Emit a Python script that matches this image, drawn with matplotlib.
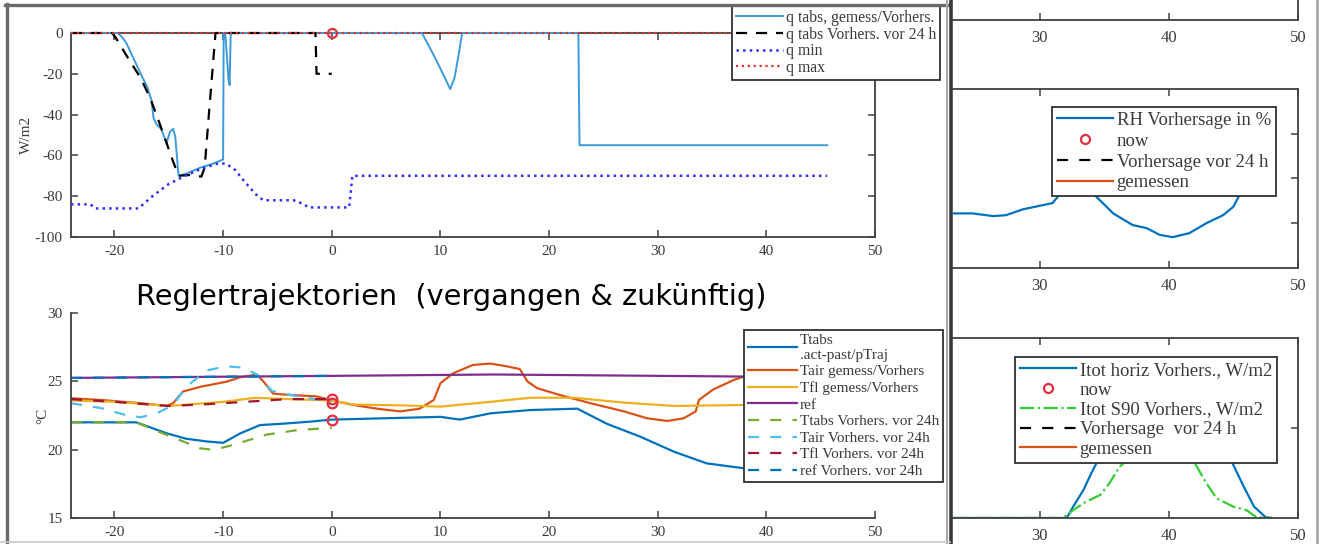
import matplotlib
matplotlib.use("Agg")
import matplotlib.pyplot as plt
from matplotlib.lines import Line2D

plt.rcParams['font.family'] = ['Liberation Serif', 'DejaVu Serif']
plt.rcParams['axes.unicode_minus'] = False

# ---- data: heat flux panel (hours relative to now, W/m2)
q_tabs_x = [-24, -19.7, -19.3, -18.9, -17.6, -17.0, -16.6, -16.4, -16.1, -15.7, -15.2,
            -14.9, -14.6, -14.4, -14.1, -13.4, -12.1, -10.9, -10.0, -9.95, -9.8, -9.5,
            -9.4, -9.3, -9.0, 8.3, 9.5, 10.5, 10.9, 11.3, 11.7, 12.0, 22.7, 22.8, 45.6]
q_tabs_v = [0, 0, -2, -5, -19.8, -26.3, -32.8, -41.8, -45, -47, -54,
            -48.5, -47, -51, -70, -69, -66, -64, -62, 0, 0, -23,
            -25.5, 0, 0, 0, -12, -23, -27.5, -22, -10, 0, 0, -55, -55]

q_prev_x = [-24, -20.2, -19.8, -18.9, -17.6, -16.7, -15.8, -15.2, -14.6, -14.1, -13.1,
            -12.0, -11.7, -11.2, -10.7, -1.5, -1.4, 0]
q_prev_v = [0, 0, -3, -11, -22, -32, -45, -54, -63, -70, -69.6,
            -70.4, -66, -32.7, 0, 0, -20, -20]

q_min_x = [-24, -22.2, -21.8, -17.8, -16.5, -15.0, -13.5, -12.0, -10.5, -9.8, -9.0,
           -8.0, -7.0, -6.3, -3.5, -3.0, -2.5, -2.2, 1.6, 1.9, 45.6]
q_min_v = [-84, -84, -86, -86, -80, -74, -70, -66.5, -64, -64, -66.5,
           -73, -79, -82, -82, -83, -84, -85.5, -85.5, -70, -70]

q_max_x = [-24, 45.6]
q_max_v = [0, 0]

now_q = 0

# ---- data: temperature panel (degC)
ttabs_x = [-24, -18.0, -15.2, -13.4, -11.5, -10.0, -8.4, -6.6, -4.5, -2.0, 0,
           10.0, 11.8, 14.6, 18.3, 22.6, 25.3, 28.4, 31.5, 34.5, 37.9, 41.0, 45.6]
ttabs_v = [22.0, 22.0, 21.2, 20.8, 20.6, 20.5, 21.2, 21.8, 21.9, 22.05, 22.2,
           22.4, 22.2, 22.66, 22.9, 23.0, 21.9, 20.95, 19.85, 19.0, 18.64, 18.2, 17.8]

tair_x = [-24, -21.3, -17.6, -15.2, -14.6, -13.7, -12.1, -9.7, -8.4, -6.9, -6.3, -5.4,
          -3.8, -1.4, -0.2, 2.0, 4.15, 6.3, 8.1, 9.4, 10.0, 11.2, 12.4, 13.0, 14.6,
          16.1, 17.3, 18.0, 18.9, 21.0, 23.8, 26.9, 29.0, 30.9, 32.4, 33.5, 33.8,
          35.1, 37.0, 37.9, 41.0, 45.6]
tair_v = [23.76, 23.64, 23.4, 23.2, 23.4, 24.25, 24.6, 24.97, 25.3, 25.5, 25.0, 24.1,
          24.0, 23.9, 23.64, 23.27, 23.0, 22.8, 23.0, 23.64, 24.86, 25.6, 26.0, 26.2, 26.3,
          26.1, 25.9, 25.0, 24.5, 24.0, 23.4, 22.8, 22.3, 22.1, 22.3, 22.8, 23.64,
          24.4, 25.1, 25.34, 25.6, 25.8]

tfl_x = [-24, -20, -15, -10, -7, -4, 0, 2, 6, 10.0, 14.6, 18.3, 22.3, 26.9, 31.5, 37.9, 45.6]
tfl_v = [23.6, 23.5, 23.2, 23.5, 23.8, 23.7, 23.6, 23.3, 23.25, 23.15, 23.5, 23.8, 23.8,
         23.44, 23.2, 23.27, 23.4]

ref_x = [-24, 0, 15, 37.9, 45.6]
ref_v = [25.25, 25.4, 25.5, 25.35, 25.35]

ttabs_prev_x = [-24, -18.0, -15.2, -12.1, -10.9, -9.1, -6.0, -3.1, -0.6, 0]
ttabs_prev_v = [22.0, 22.0, 21.08, 20.1, 19.98, 20.34, 21.1, 21.44, 21.56, 21.6]

tair_prev_x = [-24, -21.3, -18.8, -17.6, -16.1, -14.6, -13.4, -11.5, -9.7, -8.1, -6.9,
               -5.5, -3.8, 0]
tair_prev_v = [23.4, 23.05, 22.5, 22.37, 22.66, 23.27, 24.6, 25.8, 26.1, 26.0, 25.5,
               24.3, 24.0, 23.5]

tfl_prev_x = [-24, -20, -15, -12, -8, -4, 0]
tfl_prev_v = [23.7, 23.5, 23.2, 23.3, 23.5, 23.7, 23.7]

ref_prev_x = [-24, 0]
ref_prev_v = [25.25, 25.4]

now_t = [23.7, 23.4, 22.2]

# ---- data: right panels (cropped view of another figure)
rh_x = [23.3, 24.8, 26.4, 27.4, 28.7, 30.0, 31.0, 31.4, 31.7, 33.0, 34.4, 35.7, 37.2,
        38.3, 39.3, 40.3, 41.6, 42.9, 44.2, 45.0, 45.4, 45.6]
rh_v = [52.2, 52.2, 51.6, 51.8, 53.1, 53.9, 54.5, 55.9, 57.4, 62.0, 55.9, 52.2, 49.6,
        48.9, 47.4, 46.9, 47.8, 50.0, 51.8, 53.7, 55.9, 57.0]

itot_x = [23.3, 32.1, 32.6, 33.4, 34.0, 34.4, 37.0, 40.0, 43.0, 45.0, 45.8, 46.6, 47.5, 48.0]
itot_v = [0, 0, 63, 156, 248, 304, 650, 720, 650, 294, 174, 63, 4, 0]

is90_x = [23.3, 31.8, 32.6, 33.6, 34.7, 35.4, 36.2, 36.5, 39.0, 42.1, 42.9, 43.7, 45.0,
          46.0, 46.8, 48.0]
is90_v = [0, 0, 44, 91, 128, 193, 285, 304, 450, 294, 194, 109, 63, 44, 4, 0]

W, H = 1320, 544
fig = plt.figure(figsize=(W / 100, H / 100), dpi=100)


def rect(l, t, r, b):
    return [l / W, 1 - b / H, (r - l) / W, (b - t) / H]


GRAY = '#404040'
TXT = '#3a3a3a'


def style(ax, box=True, fs=11, pad=6):
    for s in ax.spines.values():
        s.set_color(GRAY)
        s.set_linewidth(1.3)
    if not box:
        ax.spines['top'].set_visible(False)
        ax.spines['right'].set_visible(False)
    ax.tick_params(direction='in', length=5, width=1.1, color=GRAY,
                   labelcolor=TXT, labelsize=fs, pad=pad,
                   top=box, right=box)


def legend(ax, handles, labels, x0, y0, fs, hl=3.0, ls=0.15):
    lg = ax.legend(handles, labels, loc='upper left',
                   bbox_to_anchor=(x0 / W, 1 - y0 / H), bbox_transform=fig.transFigure,
                   borderaxespad=0, fontsize=fs, handlelength=hl, handletextpad=0.2,
                   labelspacing=ls, borderpad=0.25, fancybox=False, framealpha=1,
                   edgecolor='#303030', labelcolor=TXT)
    lg.get_frame().set_linewidth(1.3)
    lg.set_zorder(10)
    return lg


# ---- top-left: heat flux
ax1 = fig.add_axes(rect(71, 33, 875, 237))
h1, = ax1.plot(q_tabs_x, q_tabs_v, color='#3d9ad8', lw=1.4, clip_on=False, zorder=3)
h2, = ax1.plot(q_prev_x, q_prev_v, color='black', lw=1.6, ls=(0, (5, 4)), clip_on=False, zorder=3)
h3, = ax1.plot(q_min_x, q_min_v, color='#3030ee', lw=1.8, ls=':', clip_on=False, zorder=3)
h4, = ax1.plot(q_max_x, q_max_v, color='#e03030', lw=1.6, ls=':', clip_on=False, zorder=4)
ax1.plot([0], [now_q], 'o', mfc='none', mec='#e03040', mew=1.6, ms=6.5, clip_on=False, zorder=5)
ax1.set_xlim(-24, 50)
ax1.set_ylim(-100, 0)
ax1.set_xticks(range(-20, 51, 10))
ax1.set_yticks(range(-100, 1, 20))
ax1.set_ylabel('W/m2', fontsize=11, color=TXT, labelpad=1)
style(ax1)
legend(ax1, [h1, h2, h3, h4],
       ['q tabs, gemess/Vorhers.', 'q tabs Vorhers. vor 24 h', 'q min', 'q max'],
       732, 6, 11.3, hl=3.0, ls=0.04)

# ---- bottom-left: temperatures
ax2 = fig.add_axes(rect(71, 313, 875, 518))
c_blue, c_or, c_yel, c_pur = '#0072BD', '#D95319', '#EDB120', '#7E2F8E'
c_grn, c_lb, c_dr = '#77AC30', '#4DBEEE', '#A2142F'
dash = (0, (5, 5))
g1, = ax2.plot(ttabs_x, ttabs_v, color=c_blue, lw=1.6)
g2, = ax2.plot(tair_x, tair_v, color=c_or, lw=1.6)
g3, = ax2.plot(tfl_x, tfl_v, color=c_yel, lw=1.6)
g4, = ax2.plot(ref_x, ref_v, color=c_pur, lw=1.6)
g5, = ax2.plot(ttabs_prev_x, ttabs_prev_v, color=c_grn, lw=1.6, ls=dash)
g6, = ax2.plot(tair_prev_x, tair_prev_v, color=c_lb, lw=1.6, ls=dash)
g7, = ax2.plot(tfl_prev_x, tfl_prev_v, color=c_dr, lw=1.6, ls=dash)
g8, = ax2.plot(ref_prev_x, ref_prev_v, color=c_blue, lw=1.6, ls=dash)
ax2.plot([0] * len(now_t), now_t, 'o', mfc='none', mec='#e03040', mew=1.6, ms=7, zorder=5)
ax2.set_xlim(-24, 50)
ax2.set_ylim(15, 30)
ax2.set_xticks(range(-20, 51, 10))
ax2.set_yticks([15, 20, 25, 30])
ax2.set_ylabel('°C', fontsize=11, color=TXT, labelpad=-1)
style(ax2, box=False)
legend(ax2, [g1, g2, g3, g4, g5, g6, g7, g8],
       ['Ttabs\n.act-past/pTraj', 'Tair gemess/Vorhers', 'Tfl gemess/Vorhers', 'ref',
        'Ttabs Vorhers. vor 24h', 'Tair Vorhers. vor 24h', 'Tfl Vorhers. vor 24h',
        'ref Vorhers. vor 24h'],
       744, 330, 11.0, hl=3.2, ls=0.19)

fig.text(451 / W, 1 - 305 / H, 'Reglertrajektorien  (vergangen & zukünftig)',
         family='DejaVu Sans', fontsize=20.7, ha='center', va='baseline', color='black')

# ---- right panel: three axes cropped at x >= 23.3
XL = (23.3, 50)
ax3 = fig.add_axes(rect(953, -150, 1298, 20))
ax3.set_xlim(*XL)
ax3.set_ylim(0, 1)
ax3.set_xticks([30, 40, 50])
ax3.set_yticks([])
style(ax3, fs=12, pad=7)
ax3.spines['left'].set_visible(False)

ax4 = fig.add_axes(rect(953, 89, 1298, 268))
k1, = ax4.plot(rh_x, rh_v, color=c_blue, lw=1.6)
k2, = ax4.plot([], [], 'o', mfc='none', mec='#e03040', mew=1.6, ms=6.5)
k3, = ax4.plot([], [], color='black', lw=1.6, ls=dash)
k4, = ax4.plot([], [], color=c_or, lw=1.6)
ax4.set_xlim(*XL)
ax4.set_ylim(40, 80)
ax4.set_xticks([30, 40, 50])
ax4.set_yticks([50, 60, 70])
style(ax4, fs=12, pad=7)
ax4.tick_params(labelleft=False, left=False)
ax4.spines['left'].set_visible(False)
legend(ax4, [k1, k2, k3, k4], ['RH Vorhersage in %', 'now', 'Vorhersage vor 24 h', 'gemessen'],
       1052, 107, 13.5, hl=3.0, ls=0.2)

ax5 = fig.add_axes(rect(953, 338, 1298, 518))
m1, = ax5.plot(itot_x, itot_v, color=c_blue, lw=1.6)
m2, = ax5.plot([], [], 'o', mfc='none', mec='#e03040', mew=1.6, ms=6.5)
m3, = ax5.plot(is90_x, is90_v, color='#33cc33', lw=1.6, ls='-.')
m4, = ax5.plot([], [], color='black', lw=1.6, ls=dash)
m5, = ax5.plot([], [], color=c_or, lw=1.6)
ax5.set_xlim(*XL)
ax5.set_ylim(0, 1000)
ax5.set_xticks([30, 40, 50])
ax5.set_yticks([500])
style(ax5, fs=12, pad=7)
ax5.tick_params(labelleft=False, left=False)
ax5.spines['left'].set_visible(False)
legend(ax5, [m1, m2, m3, m4, m5],
       ['Itot horiz Vorhers., W/m2', 'now', 'Itot S90 Vorhers., W/m2',
        'Vorhersage  vor 24 h', 'gemessen'],
       1015, 357, 13.5, hl=3.0, ls=0.14)

# ---- window borders of the screenshot composite
def vline(x, y0, y1, c, lw):
    fig.add_artist(Line2D([x / W, x / W], [1 - y0 / H, 1 - y1 / H], color=c, lw=lw,
                          transform=fig.transFigure))


def hline(y, x0, x1, c, lw):
    fig.add_artist(Line2D([x0 / W, x1 / W], [1 - y / H, 1 - y / H], color=c, lw=lw,
                          transform=fig.transFigure))


vline(7, 4, 544, '#6a6a6a', 2.4)
hline(5, 5, 950, '#6a6a6a', 2.4)
vline(947, 0, 544, '#a8a8a8', 1.5)
vline(951, 0, 544, '#3a3a3a', 2.6)
vline(1317, 0, 544, '#a0a0a0', 1.8)
hline(542, 0, 950, '#c8c8c8', 1.2)

fig.savefig('out.png', dpi=100)
